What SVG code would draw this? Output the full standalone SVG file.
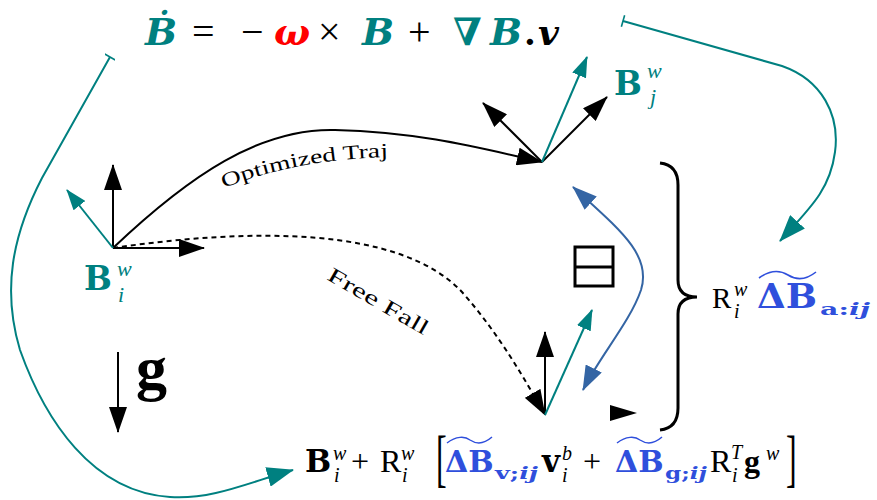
<svg xmlns="http://www.w3.org/2000/svg" width="877" height="500" viewBox="0 0 877 500">
<style>
.t{font-family:"Liberation Serif","DejaVu Serif",serif;}
.m{font-family:"DejaVu Serif","Liberation Serif",serif;}
.teal{fill:#008080;}
.blue{fill:#2f4fdc;}
.bk{stroke:#000;stroke-width:2;fill:none;}
.tl{stroke:#008080;stroke-width:2;fill:none;}
.bl{stroke:#3465a4;stroke-width:2;fill:none;}
.bi{font-weight:bold;font-style:italic;}
.b{font-weight:bold;}
.i{font-style:italic;}
</style>
<defs>
<marker id="hb" viewBox="0 0 26 18" markerWidth="26" markerHeight="18" refX="25" refY="9" orient="auto" markerUnits="userSpaceOnUse"><path d="M0,0L26,9L0,18z" fill="#000"/></marker>
<marker id="hts" viewBox="0 0 21 15" markerWidth="21" markerHeight="15" refX="20" refY="7.5" orient="auto" markerUnits="userSpaceOnUse"><path d="M0,0L21,7.5L0,15z" fill="#008080"/></marker>
<marker id="htl" viewBox="0 0 27 20" markerWidth="27" markerHeight="20" refX="26" refY="10" orient="auto" markerUnits="userSpaceOnUse"><path d="M0,0L27,10L0,20z" fill="#008080"/></marker>
<marker id="hbl" viewBox="0 0 25 18" markerWidth="25" markerHeight="18" refX="24" refY="9" orient="auto-start-reverse" markerUnits="userSpaceOnUse"><path d="M0,0L25,9L0,18z" fill="#3465a4"/></marker>
<marker id="tee" viewBox="0 0 4 12" markerWidth="4" markerHeight="12" refX="2" refY="6" orient="auto" markerUnits="userSpaceOnUse"><path d="M2,0L2,12" stroke="#008080" stroke-width="1.6"/></marker>
<path id="optp" d="M224,188 Q300,158 394,157"/>
</defs>

<g id="equation">
<text class="t" font-size="40" y="45">
<tspan x="145" class="m bi teal" font-size="38">Ḃ</tspan><tspan x="192">=</tspan><tspan x="241">−</tspan><tspan x="274" class="m bi" font-size="38" fill="#ff0000">ω</tspan><tspan x="318">×</tspan><tspan x="362" class="m bi teal" font-size="38">B</tspan><tspan x="408">+</tspan><tspan x="453" class="m b teal" font-size="38">∇</tspan><tspan x="490" class="m bi teal" font-size="38">B</tspan><tspan x="524" class="m b" font-size="34">.</tspan><tspan x="538" class="m bi" font-size="36">v</tspan>
</text>
</g>

<g id="connectors">
<path class="bk" d="M113,248 C190,175 260,128 335,130 C420,132 480,148 542,162" marker-end="url(#hb)"/>
<path class="bk" stroke-dasharray="5,4" d="M113,248 C250,228 400,226 462,292 C500,335 525,380 545,415" marker-end="url(#hb)"/>
<path class="tl" d="M110,57 L42,178 C12,236 2,290 20,350 C45,420 92,492 170,497 C212,500 250,482 293,470" marker-start="url(#tee)" marker-end="url(#htl)"/>
<path class="tl" d="M623,21 L782,66 C822,80 840,115 835,152 C830,190 810,208 780,241" marker-start="url(#tee)" marker-end="url(#htl)"/>
<path class="bl" d="M573,187 C620,230 652,255 641,290 C630,322 600,356 583,390" marker-start="url(#hbl)" marker-end="url(#hbl)"/>
<g id="gravity">
<path class="bk" d="M118,352 L118,432" marker-end="url(#hb)"/>
<text class="t b" x="136" y="389" font-size="62">g</text>
</g>
</g>

<g id="frame-i">
<path class="bk" d="M113,248 L113,165" marker-end="url(#hb)"/>
<path class="bk" d="M113,248 L204,248" marker-end="url(#hb)"/>
<path class="tl" d="M113,248 L67,190" marker-end="url(#hts)"/>
<text class="m b teal" x="84" y="290" font-size="33">B</text>
<text class="t i teal" font-size="22"><tspan x="117" y="276">w</tspan><tspan x="118" y="302">i</tspan></text>
</g>

<g id="frame-j">
<path class="bk" d="M542,162 L483,103" marker-end="url(#hb)"/>
<path class="bk" d="M542,162 L607,97" marker-end="url(#hb)"/>
<path class="tl" d="M542,162 L587,57" marker-end="url(#hts)"/>
<text class="m b teal" x="614" y="95" font-size="33">B</text>
<text class="t i teal" font-size="22"><tspan x="647" y="78">w</tspan><tspan x="650" y="104">j</tspan></text>
</g>

<g id="frame-end">
<path class="bk" d="M545,415 L545,332" marker-end="url(#hb)"/>
<path class="tl" d="M545,415 L592,310" marker-end="url(#hts)"/>
<path d="M610,405 L637,413 L610,421 z" fill="#000"/>
</g>

<g id="labels">
<text class="t" font-size="20"><textPath href="#optp" textLength="168" lengthAdjust="spacingAndGlyphs">Optimized Traj</textPath></text>
<text class="t" font-size="21" x="326" y="279" transform="rotate(30 326 279)" textLength="113" lengthAdjust="spacingAndGlyphs">Free Fall</text>
</g>

<g id="boxplus">
<rect x="575" y="247" width="38" height="39" fill="none" stroke="#000" stroke-width="3"/>
<path d="M575,267 L613,267" stroke="#000" stroke-width="3"/>
</g>

<g id="brace">
<path d="M660,163 Q678,165 678,185 L678,280 Q678,297 697,297 Q678,297 678,314 L678,408 Q678,428 660,430" fill="none" stroke="#000" stroke-width="3"/>
</g>

<g id="accel-label">
<text class="t" font-size="29" x="712" y="308">R</text>
<text class="t i" font-size="20"><tspan x="734" y="296">w</tspan><tspan x="734" y="318">i</tspan></text>
<text class="m b blue" font-size="33" x="757" y="308" textLength="60" lengthAdjust="spacingAndGlyphs">ΔB</text>
<text class="m blue" font-size="17" x="820" y="315" textLength="50" lengthAdjust="spacingAndGlyphs"><tspan class="b">a:</tspan><tspan class="bi">ij</tspan></text>
<path d="M759,278 C770,270 780,270 788,275 C796,280 806,280 816,272" fill="none" stroke="#2f4fdc" stroke-width="1.6"/>
</g>

<g id="free-fall-formula">
<text class="m b" font-size="31" y="472"><tspan x="305">B</tspan><tspan x="542">v</tspan></text>
<text class="t b" font-size="32" x="744" y="472">g</text>
<text class="t" font-size="32" y="472"><tspan x="351">+</tspan><tspan x="380">R</tspan><tspan x="583">+</tspan><tspan x="710">R</tspan></text>
<text class="t i" font-size="20">
<tspan x="333" y="460">w</tspan><tspan x="334" y="482">i</tspan><tspan x="401" y="460">w</tspan><tspan x="402" y="482">i</tspan><tspan x="562" y="460">b</tspan><tspan x="562" y="482">i</tspan><tspan x="731" y="459">T</tspan><tspan x="732" y="482">i</tspan><tspan x="766" y="460">w</tspan>
</text>
<text class="t" font-size="40" transform="translate(436,479) scale(0.8,1.6)">[</text>
<text class="t" font-size="40" transform="translate(786,479) scale(0.8,1.6)">]</text>
<text class="m b blue" font-size="30" y="472"><tspan x="445">ΔB</tspan><tspan x="615">ΔB</tspan></text>
<text class="m blue" font-size="17" x="495" y="479" textLength="43" lengthAdjust="spacingAndGlyphs"><tspan class="b">v;</tspan><tspan class="bi">ij</tspan></text>
<text class="m blue" font-size="17" x="665" y="479" textLength="42" lengthAdjust="spacingAndGlyphs"><tspan class="b">g;</tspan><tspan class="bi">ij</tspan></text>
<path d="M447,443 C456,436 465,436 470,440 C476,444 484,444 492,437" fill="none" stroke="#2f4fdc" stroke-width="1.5"/>
<path d="M617,443 C626,436 635,436 640,440 C646,444 654,444 662,437" fill="none" stroke="#2f4fdc" stroke-width="1.5"/>
</g>
</svg>
